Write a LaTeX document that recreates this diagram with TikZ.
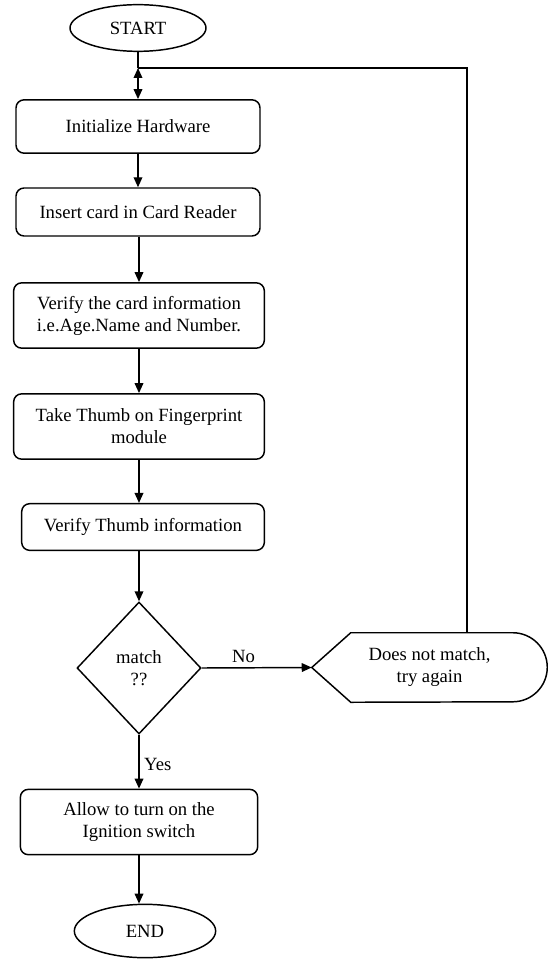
\documentclass[tikz,border=0pt]{standalone}
\usepackage{fontspec}
\setmainfont{Liberation Serif}
\usepackage{tikz}
\usetikzlibrary{shapes.geometric, arrows.meta, positioning, calc}
\tikzset{
    % Node styles
    stepbox/.style={
        rectangle,
        rounded corners=6pt,
        draw=black,
        line width=1.1pt,
        minimum height=36pt,
        align=center,
        inner sep=2pt,
        font=\fontsize{14}{16.5}\selectfont
    },
    termbox/.style={
        ellipse,
        draw=black,
        line width=1.1pt,
        inner sep=0pt,
        font=\fontsize{14}{16.5}\selectfont
    },
    decisionbox/.style={
        diamond,
        draw=black,
        line width=1.1pt,
        inner sep=0pt,
        minimum width=93pt,
        minimum height=99pt,
        align=center,
        font=\fontsize{14}{16.5}\selectfont
    },
    retrybox/.style={
        rectangle,
        draw=none,
        inner sep=0pt,
        minimum width=176.25pt,
        minimum height=51.75pt,
        align=center,
        font=\fontsize{14}{16.5}\selectfont
    },
    % Arrow styles
    myarrow/.style={
        -{Triangle[length=7.5pt,width=6.5pt]},
        line width=1.1pt,
        black
    },
    botharrow/.style={
        {Triangle[length=7.5pt,width=6.5pt]}-{Triangle[length=7.5pt,width=6.5pt]},
        line width=1.1pt,
        black
    },
    plainline/.style={
        line width=1.1pt,
        black
    },
    edgelabel/.style={
        font=\fontsize{14}{16.5}\selectfont
    }
}

\begin{document}
\begin{tikzpicture}[x=0.75pt, y=-0.75pt]
    \useasboundingbox (0,0) rectangle (547,962);

    % Terminals
    \node[termbox, minimum width=102pt, minimum height=35pt] (start) at (138,28) {START};
    \node[termbox, minimum width=106pt, minimum height=40pt] (end) at (145,931) {END};

    % Steps
    \node[stepbox, minimum width=183pt, minimum height=40pt] (init) at (138,126.5) {Initialize Hardware};
    \node[stepbox, minimum width=183pt] (insert) at (138,212) {Insert card in Card Reader};
    \node[stepbox, minimum width=188pt, minimum height=49pt] (vcard) at (139,315.5) {Verify the card information\\i.e.Age.Name and Number.};
    \node[stepbox, minimum width=188pt, minimum height=49pt] (thumb) at (139,426.5) {Take Thumb on Fingerprint\\module};
    \node[stepbox, minimum width=182pt, minimum height=35pt] (vthumb) at (143,527) {Verify Thumb information};
    \node[decisionbox] (match) at (139,668) {match\\??};
    \node[stepbox, minimum width=178pt, minimum height=49pt] (allow) at (139,822) {Allow to turn on the\\Ignition switch};

    % Retry shape
    \node[retrybox] (retry) at (429.5,667.5) {Does not match,\\try again};
    \draw[plainline] (retry.west) -- ([xshift=29.25pt]retry.north west)
        -- ([xshift=-25.9pt]retry.north east) arc[start angle=90, end angle=-90, radius=25.9pt]
        -- ([xshift=29.25pt]retry.south west) -- cycle;

    % Connectors
    \coordinate (join) at (138,68);
    \coordinate (loopc) at (467,68);
    \draw[plainline] (start.south) -- (join);
    \draw[botharrow] (join) -- (init.north);
    \draw[myarrow] (init.south) -- (insert.north);
    \draw[myarrow] (insert.south -| vcard.north) -- (vcard.north);
    \draw[myarrow] (vcard.south) -- (thumb.north);
    \draw[myarrow] (thumb.south) -- (thumb.south |- vthumb.north);
    \draw[myarrow] (vthumb.south -| match.north) -- (match.north);
    \draw[myarrow] (match.east) -- node[edgelabel, above, pos=0.38] {No} (retry.west);
    \draw[myarrow] (match.south) -- node[edgelabel, right, pos=0.55] {Yes} (allow.north);
    \draw[myarrow] (allow.south) -- (allow.south |- end.north);
    \draw[plainline] (retry.north -| loopc) -- (loopc) -- (join);
\end{tikzpicture}
\end{document}
